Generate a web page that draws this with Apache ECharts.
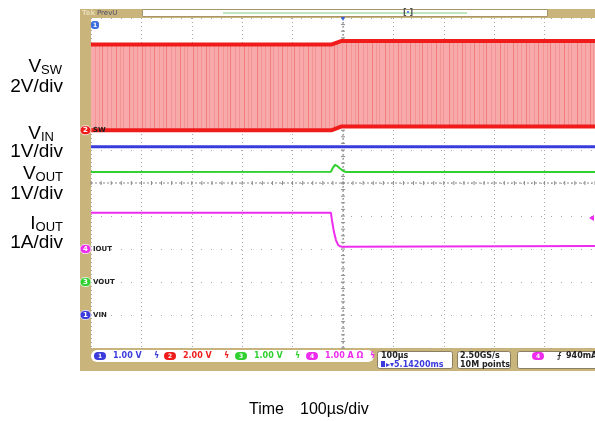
<!DOCTYPE html>
<html><head><meta charset="utf-8">
<script src="https://cdn.jsdelivr.net/npm/echarts@6/dist/echarts.min.js"></script>
<style>html,body{margin:0;padding:0;background:#fff}#c{width:595px;height:421px}</style>
</head><body><div id="c"></div>
<script>
// ---- time axis (µs), trigger at 0, 100 µs/div, 10 div ----
const timeMin = -500, timeMax = 500, timeStep = 100;
// ---- channels: scale per division and ground offset (divisions from centre) ----
const chNames  = ['VIN', 'SW', 'VOUT', 'IOUT'];
const chNum    = ['1', '2', '3', '4'];
const chScale  = [1, 2, 1, 1];
const chUnit   = ['V', 'V', 'V', 'A'];
const chOffset = [-4, 1.6, -3, -2];
const chColor  = ['#3b3bdc', '#f01c1c', '#2fd02f', '#ee2cee'];
// ---- SW (ch2): switching node, high / low envelope ----
const swTime = [-500, -22, -4, 500];
const swHigh = [5.2, 5.2, 5.4, 5.4];
const swLow  = [0.0, 0.0, 0.22, 0.22];
// ---- VIN (ch1) ----
const vinTime  = [-500, -200, 0, 200, 500];
const vinValue = [5.1, 5.1, 5.1, 5.1, 5.1];
// ---- VOUT (ch3) ----
const voutTime  = [-500, -24, -20, -16, -12, -6, 0, 6, 500];
const voutValue = [3.33, 3.34, 3.46, 3.55, 3.52, 3.44, 3.37, 3.33, 3.33];
// ---- IOUT (ch4) ----
const ioutTime  = [-500, -24, -22, -18, -14, -10, -6, -2, 500];
const ioutValue = [1.1, 1.1, 0.88, 0.52, 0.27, 0.13, 0.08, 0.07, 0.09];
// ---- trigger ----
const trigLevel = 0.94; // A on ch4

function toDiv(ch, v) { return v / chScale[ch] + chOffset[ch]; }

// pattern for dense switching fill
const pc = document.createElement('canvas');
pc.width = 64; pc.height = 4;
const g = pc.getContext('2d');
g.fillStyle = '#f8a9a9'; g.fillRect(0, 0, 64, 4);
[1, 5, 9, 14, 17, 22, 26, 31, 35, 38, 43, 47, 52, 56, 59].forEach((x, i) => {
  g.fillStyle = i % 3 === 0 ? 'rgba(235,90,90,0.55)' : 'rgba(240,120,120,0.45)';
  g.fillRect(x, 0, 1, 4);
});

const chart = echarts.init(document.getElementById('c'), null, {renderer: 'canvas'});

function cross(params, api) {
  const ch = [];
  const c = api.coord([0, 0]);
  const tl = api.coord([timeMin, 5]);
  const br = api.coord([timeMax, -5]);
  const grey = '#8a8a8a';
  ch.push({type: 'line', shape: {x1: tl[0], y1: c[1], x2: br[0], y2: c[1]}, style: {stroke: grey, lineWidth: 1, lineDash: [2, 2]}});
  ch.push({type: 'line', shape: {x1: c[0], y1: tl[1], x2: c[0], y2: br[1]}, style: {stroke: grey, lineWidth: 1, lineDash: [2, 2]}});
  for (let k = -25; k <= 25; k++) {
    const p = api.coord([k * timeStep / 5, 0]);
    ch.push({type: 'line', shape: {x1: p[0], y1: p[1] - 2, x2: p[0], y2: p[1] + 2}, style: {stroke: grey, lineWidth: 1}});
    const q = api.coord([0, k * 0.2]);
    ch.push({type: 'line', shape: {x1: q[0] - 2, y1: q[1], x2: q[0] + 2, y2: q[1]}, style: {stroke: grey, lineWidth: 1}});
  }
  return {type: 'group', children: ch};
}

function markers(params, api) {
  const ch = [];
  for (let i = 0; i < chNames.length; i++) {
    const p = api.coord([timeMin, chOffset[i]]);
    ch.push({type: 'rect', shape: {x: p[0] - 11, y: p[1] - 4.5, width: 11, height: 9, r: 4.5}, style: {fill: chColor[i], stroke: '#fff', lineWidth: 0.8}});
    ch.push({type: 'text', x: p[0] - 5.5, y: p[1], style: {text: chNum[i], fill: '#fff', font: 'bold 7px DejaVu Sans', align: 'center', verticalAlign: 'middle'}});
    ch.push({type: 'text', x: p[0] + 2, y: p[1], style: {text: chNames[i], fill: '#222', font: 'bold 7px DejaVu Sans', align: 'left', verticalAlign: 'middle'}});
  }
  const tr = api.coord([timeMax, toDiv(3, trigLevel)]);
  const tx = api.getWidth() - 1;
  ch.push({type: 'polygon', shape: {points: [[tx - 5, tr[1]], [tx, tr[1] - 3], [tx, tr[1] + 3]]}, style: {fill: chColor[3]}});
  const tp = api.coord([0, 5]);
  ch.push({type: 'rect', shape: {x: tp[0] - 2.5, y: 9, width: 5, height: 8, r: 2}, style: {fill: '#3060e0'}});
  ch.push({type: 'polygon', shape: {points: [[tp[0] - 2.5, 16], [tp[0] + 2.5, 16], [tp[0], 21]]}, style: {fill: '#3060e0'}});
  return {type: 'group', children: ch};
}

function swBand(params, api) {
  const top = swTime.map((t, i) => api.coord([t, toDiv(1, swHigh[i])]));
  const bot = swTime.map((t, i) => api.coord([t, toDiv(1, swLow[i])])).reverse();
  return {type: 'polygon', shape: {points: top.concat(bot)}, style: {fill: {type: 'pattern', image: pc, repeat: 'repeat'}}};
}

function lineSeries(name, times, vals, ch, color, width, z) {
  return {
    name, type: 'line', z, symbol: 'none', silent: true, animation: false,
    data: times.map((t, i) => [t, toDiv(ch, vals[i])]),
    lineStyle: {color, width}
  };
}

const readFont = 'bold 8px DejaVu Sans';
const graphics = [
  {type: 'rect', z: -10, shape: {x: 80, y: 9, width: 520, height: 362}, style: {fill: '#c9b57c'}},
  {type: 'text', z: 10, x: 82, y: 13.5, style: {text: 'Tek', fill: '#e8dcb4', font: 'bold 7px DejaVu Sans', verticalAlign: 'middle'}},
  {type: 'text', z: 10, x: 97, y: 13.5, style: {text: 'PrevU', fill: '#4a4a6a', font: '7px DejaVu Sans', verticalAlign: 'middle'}},
  {type: 'rect', z: 10, shape: {x: 142.5, y: 9.5, width: 405, height: 7}, style: {fill: '#fff', stroke: '#a8966a', lineWidth: 1}},
  {type: 'line', z: 11, shape: {x1: 223, y1: 13, x2: 467, y2: 13}, style: {stroke: '#7ad07a', lineWidth: 1}},
  {type: 'text', z: 11, x: 408, y: 13, style: {text: '[ ]', fill: '#555', font: 'bold 8px DejaVu Sans', align: 'center', verticalAlign: 'middle'}},
  {type: 'circle', z: 11, shape: {cx: 408, cy: 12, r: 1}, style: {fill: '#3060e0'}},
  {type: 'rect', z: 11, shape: {x: 91, y: 21, width: 8, height: 8, r: 3}, style: {fill: '#3b6fe0'}},
  {type: 'text', z: 12, x: 95, y: 25, style: {text: '1', fill: '#fff', font: 'bold 6px DejaVu Sans', align: 'center', verticalAlign: 'middle'}},
  {type: 'rect', z: 10, shape: {x: 91, y: 350, width: 283, height: 12, r: 6}, style: {fill: '#fff'}},
  {type: 'rect', z: 10, shape: {x: 377.5, y: 351.5, width: 75, height: 17, r: 2}, style: {fill: '#fff', stroke: '#8a7f60'}},
  {type: 'rect', z: 10, shape: {x: 457.5, y: 351.5, width: 53, height: 17, r: 2}, style: {fill: '#fff', stroke: '#8a7f60'}},
  {type: 'rect', z: 10, shape: {x: 517.5, y: 351.5, width: 90, height: 17, r: 2}, style: {fill: '#fff', stroke: '#8a7f60'}},
  {type: 'text', z: 11, x: 381, y: 356, style: {text: '100µs', fill: '#222', font: readFont, verticalAlign: 'middle'}},
  {type: 'rect', z: 11, shape: {x: 381, y: 361, width: 4, height: 6}, style: {fill: '#3b3bdc'}},
  {type: 'text', z: 11, x: 386, y: 364.5, style: {text: '▸▾5.14200ms', fill: '#3b3bdc', font: readFont, verticalAlign: 'middle'}},
  {type: 'text', z: 11, x: 460, y: 356, style: {text: '2.50GS/s', fill: '#222', font: readFont, verticalAlign: 'middle'}},
  {type: 'text', z: 11, x: 460, y: 364.5, style: {text: '10M points', fill: '#222', font: readFont, verticalAlign: 'middle'}},
  {type: 'rect', z: 11, shape: {x: 532, y: 352, width: 12, height: 8, r: 4}, style: {fill: chColor[3]}},
  {type: 'text', z: 12, x: 538, y: 356, style: {text: '4', fill: '#fff', font: 'bold 6px DejaVu Sans', align: 'center', verticalAlign: 'middle'}},
  {type: 'text', z: 11, x: 557, y: 356, style: {text: '⨍', fill: '#222', font: readFont, verticalAlign: 'middle'}},
  {type: 'text', z: 11, x: 566, y: 356, style: {text: '940mA', fill: '#222', font: readFont, verticalAlign: 'middle'}},
];
const readX = [94, 164, 235, 306];
for (let i = 0; i < 4; i++) {
  const x = readX[i];
  graphics.push({type: 'rect', z: 11, shape: {x: x, y: 352, width: 12, height: 8, r: 4}, style: {fill: chColor[i]}});
  graphics.push({type: 'text', z: 12, x: x + 6, y: 356, style: {text: chNum[i], fill: '#fff', font: 'bold 6px DejaVu Sans', align: 'center', verticalAlign: 'middle'}});
  graphics.push({type: 'text', z: 12, x: x + 19, y: 356, style: {text: chScale[i].toFixed(2) + ' ' + chUnit[i] + (i === 3 ? ' Ω' : ''), fill: chColor[i], font: readFont, verticalAlign: 'middle'}});
  graphics.push({type: 'text', z: 12, x: x + (i === 3 ? 64 : 60), y: 356, style: {text: 'ϟ', fill: chColor[i], font: readFont, verticalAlign: 'middle'}});
}
const lblFont = 'Liberation Sans, Arial, sans-serif';
const rich = {v: {fontSize: 19, fontFamily: lblFont, fill: '#000'}, s: {fontSize: 13, fontFamily: lblFont, fill: '#000', padding: [7, 0, 0, 0]}};
const leftLabels = [
  ['{v|V}{s|SW}', 67, 62], ['{v|2V/div}', 86.5, 63],
  ['{v|V}{s|IN}', 134, 54], ['{v|1V/div}', 151.5, 63],
  ['{v|V}{s|OUT}', 174, 63], ['{v|1V/div}', 193.5, 63],
  ['{v|I}{s|OUT}', 224, 63], ['{v|1A/div}', 243, 63]
];
leftLabels.forEach(l => graphics.push({type: 'text', z: 5, x: l[2], y: l[1], style: {text: l[0], rich, align: 'right', verticalAlign: 'middle'}}));
graphics.push({type: 'text', z: 5, x: 249, y: 410, style: {text: 'Time', fontSize: 16, fontFamily: lblFont, fill: '#000', align: 'left', verticalAlign: 'middle'}});
graphics.push({type: 'text', z: 5, x: 300, y: 410, style: {text: '100µs/div', fontSize: 16, fontFamily: lblFont, fill: '#000', align: 'left', verticalAlign: 'middle'}});

chart.setOption({
  animation: false,
  grid: {left: 91, top: 18, width: 508, height: 330, show: true, backgroundColor: '#fff', borderWidth: 0},
  xAxis: {type: 'value', min: timeMin, max: timeMax, interval: timeStep,
    axisLine: {show: false}, axisTick: {show: false}, axisLabel: {show: false},
    splitLine: {show: true, lineStyle: {color: '#a8a8a8', width: 1, type: [1, 3]}}},
  yAxis: {type: 'value', min: -5, max: 5, interval: 1,
    axisLine: {show: false}, axisTick: {show: false}, axisLabel: {show: false},
    splitLine: {show: true, lineStyle: {color: '#a8a8a8', width: 1, type: [1, 9]}}},
  graphic: graphics,
  series: [
    {type: 'custom', z: 1, silent: true, renderItem: cross, data: [[0, 0]], clip: false},
    {type: 'custom', z: 2, silent: true, renderItem: swBand, data: [[0, 0]], clip: false},
    lineSeries('swHigh', swTime, swHigh, 1, chColor[1], 4, 4),
    lineSeries('swLow', swTime, swLow, 1, chColor[1], 4, 4),
    lineSeries('VIN', vinTime, vinValue, 0, chColor[0], 3, 4),
    lineSeries('VOUT', voutTime, voutValue, 2, chColor[2], 2, 4),
    lineSeries('IOUT', ioutTime, ioutValue, 3, chColor[3], 2, 4),
    {type: 'custom', z: 6, silent: true, renderItem: markers, data: [[0, 0]], clip: false}
  ]
});
</script></body></html>
